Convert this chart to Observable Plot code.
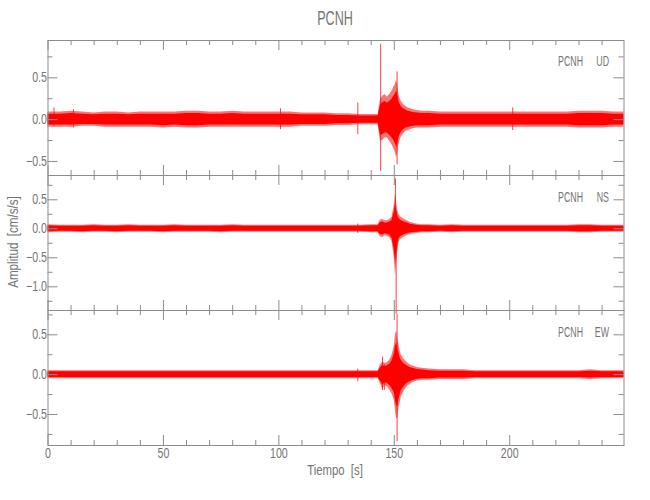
<!DOCTYPE html>
<html><head><meta charset="utf-8">
<script src="https://cdn.jsdelivr.net/npm/d3@7"></script>
<script src="https://cdn.jsdelivr.net/npm/@observablehq/plot@0.6"></script>
<style>
body{margin:0;background:#fff;}
#chart{position:relative;width:650px;height:500px;}
#chart svg{position:absolute;left:0;top:0;}
</style></head><body><div id="chart"></div>
<script>
// ---------- data ----------
const station = "PCNH";
const components = ["UD", "NS", "EW"];
const titleText = "PCNH";
const xLabel = "Tiempo  [s]";
const yLabel = "Amplitud  [cm/s/s]";
const xMajor = [0, 50, 100, 150, 200];
const xMinor = [10, 20, 30, 40, 60, 70, 80, 90, 110, 120, 130, 140, 160, 170, 180, 190, 210, 220, 230, 240];

// sample times of the envelope (s)
const time = [0,5,10,15,20,25,30,35,40,45,50,55,60,65,70,75,80,85,90,95,100,105,110,115,120,125,130,135,140,
  143,144,145,146,147,148,149,150,150.5,151,151.5,152,152.5,153,154,155,156,157,158,160,162,
  165,170,175,180,185,190,195,200,205,210,215,220,225,230,235,240,245,249.5];

// UD envelope (cm/s/s)
const udHi = [0.09,0.09,0.10,0.09,0.08,0.09,0.09,0.08,0.09,0.09,0.09,0.09,0.10,0.10,0.09,0.09,0.10,0.09,0.09,0.09,0.09,0.09,0.08,0.08,0.08,0.07,0.07,0.06,0.06,
  0.06,0.24,0.28,0.30,0.27,0.30,0.34,0.40,0.42,0.48,0.40,0.30,0.25,0.22,0.18,0.16,0.14,0.13,0.12,0.11,0.10,
  0.10,0.09,0.09,0.09,0.09,0.09,0.09,0.09,0.09,0.09,0.09,0.09,0.09,0.10,0.10,0.10,0.09,0.09];
const udLo = [-0.09,-0.09,-0.09,-0.08,-0.08,-0.09,-0.09,-0.09,-0.09,-0.09,-0.10,-0.09,-0.10,-0.10,-0.09,-0.09,-0.09,-0.09,-0.09,-0.09,-0.09,-0.09,-0.08,-0.08,-0.08,-0.07,-0.07,-0.06,-0.06,
  -0.06,-0.26,-0.25,-0.22,-0.22,-0.26,-0.30,-0.36,-0.40,-0.46,-0.40,-0.30,-0.25,-0.21,-0.17,-0.14,-0.13,-0.12,-0.11,-0.10,-0.10,
  -0.10,-0.09,-0.09,-0.09,-0.09,-0.09,-0.09,-0.09,-0.09,-0.09,-0.09,-0.09,-0.09,-0.10,-0.10,-0.10,-0.09,-0.09];
const udSpikeT  = [2.6, 11, 100.7, 134.2, 144.1, 151.2, 201.3];
const udSpikeLo = [-0.08, -0.10, -0.12, -0.18, -0.62, -0.54, -0.13];
const udSpikeHi = [0.14, 0.12, 0.13, 0.20, 0.90, 0.57, 0.14];

// NS envelope
const nsHi = [0.07,0.06,0.06,0.06,0.07,0.06,0.06,0.07,0.06,0.06,0.06,0.07,0.06,0.06,0.06,0.06,0.07,0.06,0.06,0.06,0.06,0.06,0.06,0.06,0.06,0.06,0.06,0.06,0.07,
  0.07,0.15,0.16,0.14,0.14,0.16,0.20,0.40,0.60,0.45,0.32,0.25,0.22,0.20,0.17,0.15,0.13,0.11,0.10,0.08,0.07,
  0.07,0.06,0.07,0.06,0.06,0.06,0.06,0.06,0.06,0.06,0.06,0.06,0.06,0.07,0.07,0.06,0.06,0.06];
const nsLo = [-0.07,-0.06,-0.06,-0.07,-0.06,-0.06,-0.07,-0.06,-0.06,-0.06,-0.07,-0.06,-0.06,-0.06,-0.06,-0.07,-0.06,-0.06,-0.06,-0.06,-0.06,-0.06,-0.06,-0.06,-0.06,-0.06,-0.06,-0.06,-0.07,
  -0.07,-0.14,-0.15,-0.12,-0.13,-0.15,-0.22,-0.50,-0.80,-0.60,-0.40,-0.25,-0.20,-0.18,-0.15,-0.13,-0.11,-0.10,-0.09,-0.08,-0.07,
  -0.07,-0.06,-0.07,-0.06,-0.06,-0.06,-0.06,-0.06,-0.06,-0.06,-0.06,-0.06,-0.06,-0.07,-0.07,-0.06,-0.06,-0.06];
const nsSpikeT  = [134.2, 150.5, 150.8];
const nsSpikeLo = [-0.08, -0.30, -1.47];
const nsSpikeHi = [0.08, 0.86, 0.30];

// EW envelope
const ewHi = [0.05,0.05,0.05,0.05,0.05,0.05,0.05,0.05,0.05,0.05,0.05,0.05,0.05,0.05,0.05,0.05,0.05,0.05,0.05,0.05,0.05,0.05,0.05,0.05,0.05,0.05,0.05,0.05,0.05,
  0.05,0.12,0.16,0.14,0.15,0.18,0.24,0.36,0.50,0.55,0.45,0.38,0.30,0.25,0.20,0.17,0.14,0.12,0.11,0.09,0.08,
  0.07,0.06,0.06,0.06,0.05,0.05,0.05,0.05,0.05,0.05,0.05,0.05,0.05,0.05,0.06,0.05,0.05,0.05];
const ewLo = [-0.05,-0.05,-0.05,-0.05,-0.05,-0.05,-0.05,-0.05,-0.05,-0.05,-0.05,-0.05,-0.05,-0.05,-0.05,-0.05,-0.05,-0.05,-0.05,-0.05,-0.05,-0.05,-0.05,-0.05,-0.05,-0.05,-0.05,-0.05,-0.05,
  -0.05,-0.11,-0.18,-0.14,-0.15,-0.19,-0.24,-0.32,-0.45,-0.55,-0.55,-0.42,-0.36,-0.28,-0.22,-0.17,-0.14,-0.12,-0.10,-0.08,-0.07,
  -0.07,-0.06,-0.06,-0.06,-0.05,-0.05,-0.05,-0.05,-0.05,-0.05,-0.05,-0.05,-0.05,-0.05,-0.06,-0.05,-0.05,-0.05];
const ewSpikeT  = [134.2, 144.9, 145.7, 151.2];
const ewSpikeLo = [-0.09, -0.20, -0.20, -0.84];
const ewSpikeHi = [0.07, 0.22, 0.12, 0.76];

const yMajorUD = [-0.5, 0, 0.5];
const yMinorUD = [-0.25, 0.25, 0.75];
const yMajorNS = [-1.0, -0.5, 0, 0.5];
const yMinorNS = [-1.25, -0.75, -0.25, 0.25, 0.75];
const yMajorEW = [-0.5, 0, 0.5];
const yMinorEW = [-0.75, -0.25, 0.25, 0.75];

// ---------- drawing ----------
const W = 650, Hh = 500, ML = 47.5, MR = 26.5;
const AX = "#8c8c8c", TXT = "#747474", RED = "#ff0000";
const FONT = "'Liberation Sans', Arial, sans-serif";
const chart = document.getElementById("chart");

function condense(svg, k) {
  d3.select(svg).selectAll('g[aria-label$="tick label"] text').each(function () {
    const tr = this.getAttribute("transform") || "";
    this.setAttribute("transform", tr + ` scale(${k},1)`);
  });
}

function panel(p) {
  const H = p.bottom - p.top, PW = W - ML - MR;
  const rows = time.map((t, i) => ({t, hi: p.hi[i], lo: p.lo[i]}));
  const spikes = p.st.map((t, i) => ({t, lo: p.sl[i], hi: p.sh[i]}));
  const core = 0.72;
  const marks = [
    Plot.areaY(rows, {x: "t", y1: "lo", y2: "hi", fill: RED, fillOpacity: 0.55}),
    Plot.areaY(rows, {x: "t", y1: d => d.lo * core, y2: d => d.hi * core, fill: RED}),
    Plot.ruleX(spikes, {x: "t", y1: "lo", y2: "hi", stroke: RED, strokeWidth: 1, strokeOpacity: 0.75}),
    Plot.frame({stroke: AX}),
    Plot.ruleX(xMajor, {stroke: AX, insetBottom: H - 10}),
    Plot.ruleX(xMajor, {stroke: AX, insetTop: H - 10}),
    Plot.ruleX(xMinor, {stroke: AX, insetBottom: H - 5}),
    Plot.ruleX(xMinor, {stroke: AX, insetTop: H - 5}),
    Plot.ruleY(p.yMajor, {stroke: AX, insetRight: PW - 10}),
    Plot.ruleY(p.yMajor, {stroke: AX, insetLeft: PW - 10}),
    Plot.ruleY(p.yMinor, {stroke: AX, insetRight: PW - 5}),
    Plot.ruleY(p.yMinor, {stroke: AX, insetLeft: PW - 5}),
    Plot.axisY({ticks: p.yMajor, tickSize: 0, tickPadding: 1, tickFormat: d3.format(".1f"), fill: TXT, fontSize: 14, label: null})
  ];
  if (p.showX) marks.push(Plot.axisX({ticks: xMajor, tickSize: 0, tickPadding: 3, fill: TXT, fontSize: 14, label: null}));
  const svg = Plot.plot({
    width: W, height: Hh,
    marginTop: p.top, marginBottom: Hh - p.bottom, marginLeft: ML, marginRight: MR,
    x: {domain: [0, 249.5], axis: p.showX ? undefined : null},
    y: {domain: p.domain},
    style: {background: "transparent", fontFamily: FONT, fontSize: "14px", overflow: "visible"},
    marks
  });
  condense(svg, 0.76);
  chart.appendChild(svg);
}

panel({top: 40, bottom: 175, domain: [-0.668, 0.946], hi: udHi, lo: udLo, st: udSpikeT, sl: udSpikeLo, sh: udSpikeHi, yMajor: yMajorUD, yMinor: yMinorUD});
panel({top: 175, bottom: 310, domain: [-1.409, 0.919], hi: nsHi, lo: nsLo, st: nsSpikeT, sl: nsSpikeLo, sh: nsSpikeHi, yMajor: yMajorNS, yMinor: yMinorNS});
panel({top: 310, bottom: 445, domain: [-0.889, 0.805], hi: ewHi, lo: ewLo, st: ewSpikeT, sl: ewSpikeLo, sh: ewSpikeHi, yMajor: yMajorEW, yMinor: yMinorEW, showX: true});

// text overlay
const svgT = d3.select(chart).append("svg").attr("width", W).attr("height", Hh)
  .style("font-family", FONT).style("fill", TXT);
svgT.append("text").attr("transform", "translate(335,25) scale(0.6,1)").attr("text-anchor", "middle")
  .attr("font-size", 21).text(titleText);
svgT.append("text").attr("transform", "translate(335,475) scale(0.81,1)").attr("text-anchor", "middle")
  .attr("font-size", 14).style("white-space", "pre").text(xLabel);
svgT.append("text").attr("transform", "translate(18,242) rotate(-90) scale(0.83,1)").attr("text-anchor", "middle")
  .attr("font-size", 14).style("white-space", "pre").text(yLabel);
const labelBase = [66, 201.5, 336.5];
components.forEach((c, i) => {
  svgT.append("text").attr("transform", `translate(583,${labelBase[i]}) scale(0.63,1)`).attr("text-anchor", "end")
    .attr("font-size", 14).text(station);
  svgT.append("text").attr("transform", `translate(609,${labelBase[i]}) scale(0.63,1)`).attr("text-anchor", "end")
    .attr("font-size", 14).text(c);
});
</script>
</body></html>
